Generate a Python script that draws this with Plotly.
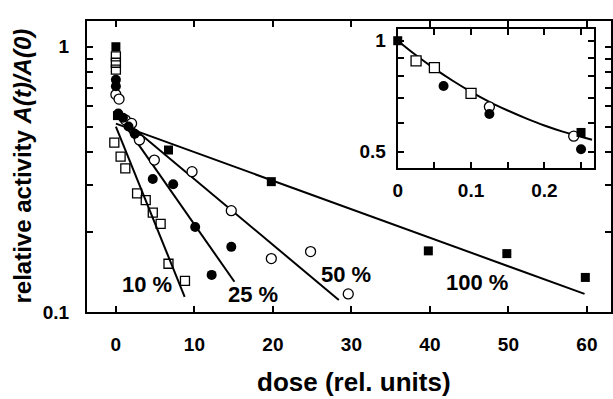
import math
import plotly.graph_objects as go

# ---------------- data ----------------
# main plot: dose (rel. units) vs relative activity
sq100_x = [0, 0.2, 6.7, 19.8, 39.8, 49.8, 59.8]
sq100_y = [1.0, 0.55, 0.408, 0.31, 0.170, 0.166, 0.135]

open50_x = [0, 0.4, 1.2, 2.0, 3.0, 4.9, 9.7, 14.7, 19.8, 24.8, 29.6]
open50_y = [0.66, 0.635, 0.53, 0.514, 0.445, 0.374, 0.338, 0.241, 0.159, 0.169, 0.117]

fill25_x = [0, 0, 0.3, 0.9, 1.6, 2.4, 4.7, 7.3, 10.1, 12.2, 14.7]
fill25_y = [0.75, 0.71, 0.56, 0.54, 0.50, 0.47, 0.317, 0.303, 0.209, 0.138, 0.176]

open10_x = [0, 0, 0, -0.2, 0.6, 1.2, 2.7, 3.8, 4.7, 5.7, 6.7, 8.8]
open10_y = [0.92, 0.87, 0.82, 0.435, 0.385, 0.348, 0.28, 0.264, 0.237, 0.215, 0.152, 0.131]

# straight fit lines (start / end points)
fit_names = ["100 %", "50 %", "25 %", "10 %"]
fit_x0 = [0, 0, 0, 0]
fit_y0 = [0.513, 0.560, 0.567, 0.50]
fit_x1 = [59.7, 28.4, 15.1, 8.76]
fit_y1 = [0.117, 0.111, 0.130, 0.114]

# curve labels
lab_text = ["10 %", "25 %", "50 %", "100 %"]
lab_x = [4.0, 17.5, 29.3, 46.0]
lab_y = [0.127, 0.116, 0.138, 0.129]

# inset data
ins_sq_open_x = [0.025, 0.05, 0.1]
ins_sq_open_y = [0.882, 0.845, 0.72]
ins_fill_c_x = [0.0625, 0.125, 0.25]
ins_fill_c_y = [0.754, 0.633, 0.508]
ins_open_c_x = [0.125, 0.24]
ins_open_c_y = [0.662, 0.551]
ins_sq_fill_x = [0, 0.25]
ins_sq_fill_y = [1.0, 0.564]

ins_curve_x = [0, 0.025, 0.05, 0.075, 0.1, 0.125, 0.15, 0.175, 0.2, 0.225, 0.25, 0.265]
ins_curve_y = [1.0, 0.913, 0.840, 0.779, 0.727, 0.683, 0.647, 0.616, 0.589, 0.567, 0.549, 0.539]

# tick labels
x_ticks = [0, 10, 20, 30, 40, 50, 60]
y_tickvals = [0.1, 0.2, 0.3, 0.4, 0.5, 0.6, 0.7, 0.8, 0.9, 1.0]
y_ticktext = ["0.1", "", "", "", "", "", "", "", "", "1"]
ins_x_tickvals = [0, 0.05, 0.1, 0.15, 0.2, 0.25]
ins_x_ticktext = ["0", "", "0.1", "", "0.2", ""]
ins_y_tickvals = [0.5, 0.6, 0.7, 0.8, 0.9, 1.0]
ins_y_ticktext = ["0.5", "", "", "", "", "1"]

# ---------------- figure ----------------
FONT = "Liberation Sans, Arial, sans-serif"
BLACK = "black"

fig = go.Figure()

# fit lines (main)
for i in range(len(fit_names)):
    fig.add_trace(go.Scatter(x=[fit_x0[i], fit_x1[i]], y=[fit_y0[i], fit_y1[i]],
                             mode="lines", line=dict(color=BLACK, width=2),
                             showlegend=False, hoverinfo="skip"))

def sq_fill():
    return dict(symbol="square", size=9, color=BLACK, line=dict(width=0))

def c_open():
    return dict(symbol="circle", size=10, color="white", line=dict(width=1.3, color=BLACK))

def c_fill():
    return dict(symbol="circle", size=10, color=BLACK, line=dict(width=0))

fig.add_trace(go.Scatter(x=open10_x, y=open10_y, mode="markers",
                         marker=dict(symbol="square-open", size=9, color=BLACK,
                                     line=dict(width=1.3, color=BLACK)),
                         showlegend=False, cliponaxis=False))
fig.add_trace(go.Scatter(x=open50_x, y=open50_y, mode="markers", marker=c_open(),
                         showlegend=False, cliponaxis=False))
fig.add_trace(go.Scatter(x=fill25_x, y=fill25_y, mode="markers", marker=c_fill(),
                         showlegend=False, cliponaxis=False))
fig.add_trace(go.Scatter(x=sq100_x, y=sq100_y, mode="markers", marker=sq_fill(),
                         showlegend=False, cliponaxis=False))

# inset traces
fig.add_trace(go.Scatter(x=ins_curve_x, y=ins_curve_y, mode="lines",
                         line=dict(color=BLACK, width=2, shape="spline"),
                         xaxis="x2", yaxis="y2", showlegend=False, hoverinfo="skip"))
fig.add_trace(go.Scatter(x=ins_sq_open_x, y=ins_sq_open_y, mode="markers",
                         marker=dict(symbol="square", size=10, color="white",
                                     line=dict(width=1.3, color=BLACK)),
                         xaxis="x2", yaxis="y2", showlegend=False, cliponaxis=False))
fig.add_trace(go.Scatter(x=ins_open_c_x, y=ins_open_c_y, mode="markers", marker=c_open(),
                         xaxis="x2", yaxis="y2", showlegend=False, cliponaxis=False))
fig.add_trace(go.Scatter(x=ins_fill_c_x, y=ins_fill_c_y, mode="markers", marker=c_fill(),
                         xaxis="x2", yaxis="y2", showlegend=False, cliponaxis=False))
fig.add_trace(go.Scatter(x=ins_sq_fill_x, y=ins_sq_fill_y, mode="markers", marker=sq_fill(),
                         xaxis="x2", yaxis="y2", showlegend=False, cliponaxis=False))

# curve labels (log axis: annotation y is given in log10 units)
for t, xx, yy in zip(lab_text, lab_x, lab_y):
    fig.add_annotation(x=xx, y=math.log10(yy), yref="y", xref="x", text="<b>" + t + "</b>",
                       showarrow=False, font=dict(family=FONT, size=22, color=BLACK))

# axis titles
fig.add_annotation(x=0.51, y=-0.24, xref="paper", yref="paper", xanchor="center",
                   yanchor="middle", showarrow=False,
                   text="<b>dose (rel. units)</b>",
                   font=dict(family=FONT, size=26, color=BLACK))
fig.add_annotation(x=-0.124, y=0.5, xref="paper", yref="paper", xanchor="center",
                   yanchor="middle", showarrow=False, textangle=-90,
                   text="<b>relative activity <i>A(t)/A(0)</i></b>",
                   font=dict(family=FONT, size=24, color=BLACK))

axis_common = dict(showline=True, linecolor=BLACK, ticks="inside", tickcolor=BLACK,
                   showgrid=False, zeroline=False)

fig.update_layout(
    width=613, height=399,
    margin=dict(l=87, r=0, t=21, b=87),
    paper_bgcolor="white", plot_bgcolor="white",
    font=dict(family=FONT, color=BLACK),
    xaxis=dict(range=[-3.68, 63.07], tickvals=x_ticks, linewidth=2, mirror="ticks",
               ticklen=6, tickwidth=1.5, ticklabelstandoff=14,
               tickfont=dict(family=FONT, size=19, color=BLACK, weight="bold"),
               **axis_common),
    yaxis=dict(type="log", range=[-1, 0.097], tickvals=y_tickvals, ticktext=y_ticktext,
               linewidth=2, mirror="ticks", ticklen=6, tickwidth=1.5, ticklabelstandoff=12,
               tickfont=dict(family=FONT, size=19, color=BLACK, weight="bold"),
               **axis_common),
    xaxis2=dict(domain=[0.593, 0.968], anchor="y2", range=[0, 0.268],
                tickvals=ins_x_tickvals, ticktext=ins_x_ticktext, linewidth=2,
                mirror="ticks", ticklen=6, tickwidth=1.5, ticklabelstandoff=4,
                tickfont=dict(family=FONT, size=19, color=BLACK, weight="bold"),
                **axis_common),
    yaxis2=dict(domain=[0.495, 0.9715], anchor="x2", type="log", range=[-0.345, 0.031],
                tickvals=ins_y_tickvals, ticktext=ins_y_ticktext, linewidth=2,
                mirror="ticks", ticklen=6, tickwidth=1.5, ticklabelstandoff=6,
                tickfont=dict(family=FONT, size=19, color=BLACK, weight="bold"),
                **axis_common),
)

fig.write_html("out.html")
